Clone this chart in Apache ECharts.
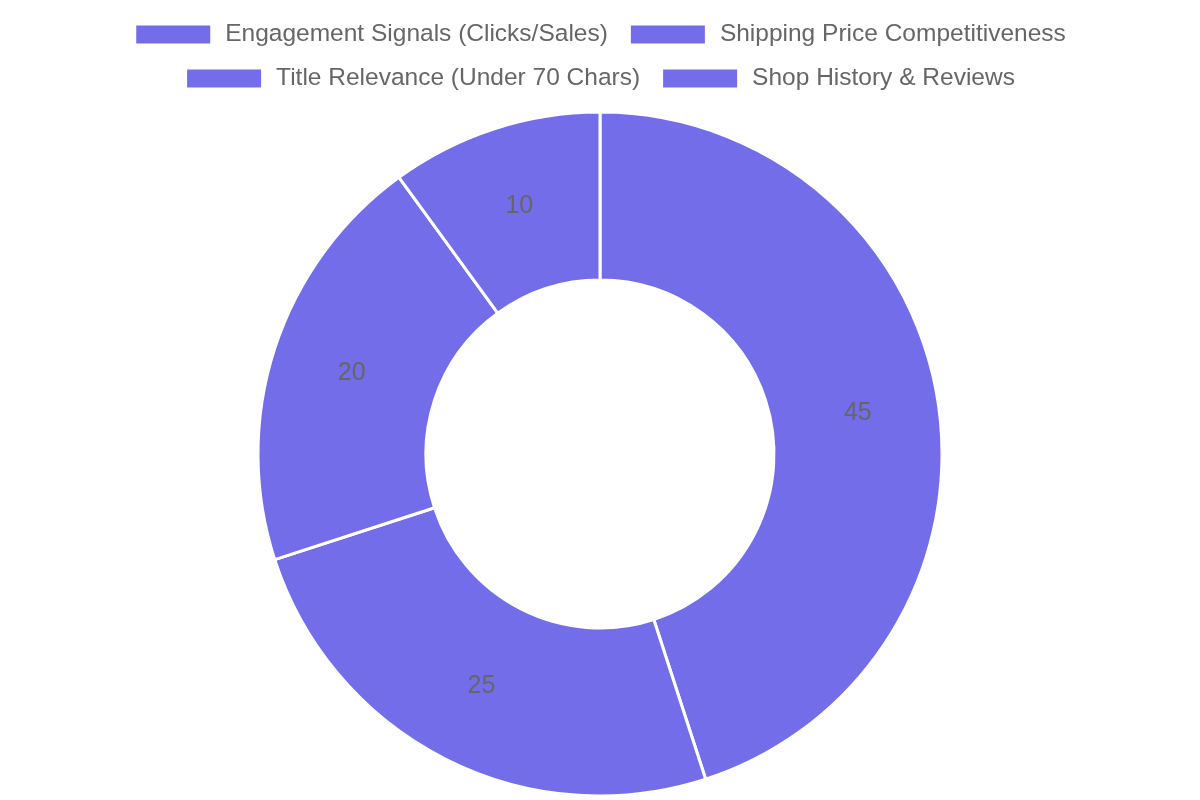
<!DOCTYPE html>
<html>
<head>
<meta charset="utf-8">
<script src="https://cdn.jsdelivr.net/npm/echarts@6/dist/echarts.min.js"></script>
<style>
html,body{margin:0;padding:0;background:#fff;}
#chart{width:1200px;height:800px;}
</style>
</head>
<body>
<div id="chart"></div>
<script>
var categories = ['Engagement Signals (Clicks/Sales)', 'Shipping Price Competitiveness', 'Title Relevance (Under 70 Chars)', 'Shop History & Reviews'];
var values = [45, 25, 20, 10];
var legendRow1 = ['Engagement Signals (Clicks/Sales)', 'Shipping Price Competitiveness'];
var legendRow2 = ['Title Relevance (Under 70 Chars)', 'Shop History & Reviews'];
var sliceColor = '#736DE9';

var chart = echarts.init(document.getElementById('chart'), null, {renderer: 'canvas'});
var data = categories.map(function (c, i) { return {name: c, value: values[i]}; });
function legend(rowData, top) {
  return {
    top: top,
    left: 'center',
    padding: 0,
    itemWidth: 76,
    itemHeight: 20,
    itemGap: 21,
    icon: 'rect',
    textStyle: {
      color: '#666',
      fontSize: 24.5,
      fontFamily: 'Liberation Sans, Arial, sans-serif',
      padding: [0, 0, 0, 9],
      lineHeight: 20
    },
    data: rowData
  };
}
chart.setOption({
  animation: false,
  color: [sliceColor],
  legend: [legend(legendRow1, 22), legend(legendRow2, 66)],
  series: [{
    type: 'pie',
    center: [600, 454],
    radius: [174, 342],
    startAngle: 90,
    clockwise: true,
    itemStyle: {color: sliceColor, borderColor: '#fff', borderWidth: 3},
    label: {
      show: true,
      position: 'inside',
      formatter: '{c}',
      color: '#666',
      fontSize: 25,
      fontFamily: 'Liberation Sans, Arial, sans-serif'
    },
    labelLine: {show: false},
    emphasis: {disabled: true},
    data: data
  }]
});
</script>
</body>
</html>
